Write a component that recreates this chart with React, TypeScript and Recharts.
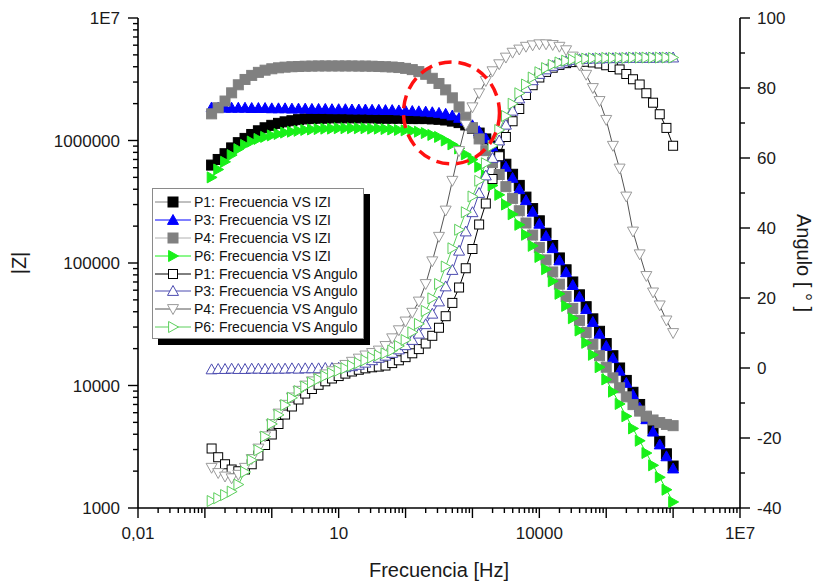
import React from "react";
import { ComposedChart, Line, XAxis, YAxis, ReferenceDot } from "recharts";

// sweep frequencies (Hz), 10 points per decade
const FREQ = [
  0.126, 0.158, 0.2, 0.251, 0.316, 0.398, 0.501, 0.631, 0.794, 1,
  1.26, 1.58, 2, 2.51, 3.16, 3.98, 5.01, 6.31, 7.94, 10,
  12.6, 15.8, 20, 25.1, 31.6, 39.8, 50.1, 63.1, 79.4, 100,
  126, 158, 200, 251, 316, 398, 501, 631, 794, 1000,
  1259, 1585, 1995, 2512, 3162, 3981, 5012, 6310, 7943, 10000,
  12589, 15849, 19953, 25119, 31623, 39811, 50119, 63096, 79433, 100000,
  125893, 158489, 199526, 251189, 316228, 398107, 501187, 630957, 794328, 1000000,
];

// |Z| (ohm)
const P1_Z = [
  6.3e5, 7.0e5, 7.8e5, 8.7e5, 9.6e5, 1.04e6, 1.12e6, 1.2e6, 1.27e6, 1.33e6,
  1.38e6, 1.42e6, 1.45e6, 1.48e6, 1.5e6, 1.51e6, 1.52e6, 1.52e6, 1.53e6, 1.53e6,
  1.53e6, 1.53e6, 1.53e6, 1.53e6, 1.53e6, 1.52e6, 1.52e6, 1.52e6, 1.52e6, 1.52e6,
  1.51e6, 1.51e6, 1.51e6, 1.5e6, 1.49e6, 1.47e6, 1.44e6, 1.4e6, 1.34e6, 1.26e6,
  1.15e6, 1.03e6, 9.0e5, 7.7e5, 6.4e5, 5.3e5, 4.3e5, 3.45e5, 2.78e5, 2.21e5,
  1.75e5, 1.39e5, 1.1e5, 8.8e4, 7.0e4, 5.5e4, 4.4e4, 3.5e4, 2.77e4, 2.2e4,
  1.75e4, 1.39e4, 1.1e4, 8800, 7000, 5500, 4400, 3500, 2770, 2200,
];
const P3_Z = [
  1.86e6, 1.86e6, 1.85e6, 1.85e6, 1.85e6, 1.85e6, 1.84e6, 1.84e6, 1.84e6, 1.83e6,
  1.83e6, 1.83e6, 1.82e6, 1.82e6, 1.82e6, 1.81e6, 1.81e6, 1.81e6, 1.8e6, 1.8e6,
  1.8e6, 1.79e6, 1.79e6, 1.79e6, 1.78e6, 1.78e6, 1.77e6, 1.77e6, 1.76e6, 1.75e6,
  1.74e6, 1.73e6, 1.72e6, 1.7e6, 1.68e6, 1.65e6, 1.6e6, 1.53e6, 1.45e6, 1.33e6,
  1.19e6, 1.04e6, 8.85e5, 7.4e5, 6.1e5, 4.95e5, 4.0e5, 3.25e5, 2.62e5, 2.09e5,
  1.66e5, 1.32e5, 1.05e5, 8.4e4, 6.6e4, 5.3e4, 4.2e4, 3.3e4, 2.64e4, 2.1e4,
  1.67e4, 1.32e4, 1.05e4, 8400, 6600, 5300, 4200, 3300, 2640, 2100,
];
const P4_Z = [
  1.65e6, 1.85e6, 2.1e6, 2.45e6, 2.85e6, 3.15e6, 3.4e6, 3.6e6, 3.75e6, 3.85e6,
  3.92e6, 3.97e6, 4.0e6, 4.02e6, 4.04e6, 4.05e6, 4.06e6, 4.06e6, 4.06e6, 4.06e6,
  4.06e6, 4.06e6, 4.05e6, 4.05e6, 4.04e6, 4.02e6, 4.0e6, 3.98e6, 3.94e6, 3.88e6,
  3.79e6, 3.65e6, 3.47e6, 3.22e6, 2.92e6, 2.59e6, 2.23e6, 1.88e6, 1.55e6, 1.27e6,
  1.03e6, 8.26e5, 6.6e5, 5.28e5, 4.2e5, 3.37e5, 2.67e5, 2.12e5, 1.69e5, 1.34e5,
  1.06e5, 8.45e4, 6.72e4, 5.33e4, 4.26e4, 3.4e4, 2.71e4, 2.17e4, 1.75e4, 1.41e4,
  1.155e4, 9580, 8080, 6980, 6180, 5620, 5230, 4980, 4810, 4700,
];
const P6_Z = [
  5.0e5, 5.8e5, 6.7e5, 7.6e5, 8.5e5, 9.2e5, 9.8e5, 1.03e6, 1.07e6, 1.1e6,
  1.13e6, 1.16e6, 1.18e6, 1.2e6, 1.22e6, 1.23e6, 1.24e6, 1.25e6, 1.25e6, 1.26e6,
  1.26e6, 1.26e6, 1.26e6, 1.26e6, 1.25e6, 1.25e6, 1.24e6, 1.23e6, 1.22e6, 1.21e6,
  1.2e6, 1.18e6, 1.15e6, 1.11e6, 1.07e6, 1.0e6, 9.3e5, 8.6e5, 7.7e5, 7.0e5,
  6.1e5, 5.2e5, 4.3e5, 3.6e5, 3.0e5, 2.5e5, 2.05e5, 1.7e5, 1.38e5, 1.12e5,
  8.9e4, 7.1e4, 5.6e4, 4.46e4, 3.54e4, 2.81e4, 2.23e4, 1.78e4, 1.41e4, 1.12e4,
  8900, 7070, 5610, 4460, 3540, 2810, 2230, 1780, 1410, 1120,
];

// phase angle (degrees)
const P1_A = [
  -23, -25.5, -27.5, -29, -29.5, -29, -27.5, -25, -22, -19,
  -16, -13.3, -11, -9, -7.3, -6, -4.8, -3.8, -3, -2.3,
  -1.6, -1, -0.5, -0.1, 0.2, 0.4, 0.7, 1.4, 2.2, 3.1,
  4.2, 5.4, 7, 9.2, 11.5, 14.8, 18.6, 23, 28.5, 34,
  41, 47, 54, 60.5, 66, 70.5, 74, 78, 80.8, 83,
  84.6, 85.8, 86.6, 87.1, 87.4, 87.5, 87.5, 87.3, 87, 86.5,
  86, 85.3, 84, 82.5, 81, 78.5, 75.8, 72.5, 68.6, 63.5,
];
const P3_A = [
  -0.4, -0.3, -0.3, -0.2, -0.3, -0.3, -0.2, -0.2, -0.3, -0.2,
  -0.2, -0.2, -0.1, -0.2, -0.1, -0.1, -0.1, 0, 0, 0.1,
  0.2, 0.5, 0.9, 1.5, 2.2, 2.9, 3.5, 4.3, 5.3, 6.5,
  8, 9.8, 12.5, 15.5, 19, 23.3, 28, 33.5, 39, 44.5,
  50, 55, 60, 65, 69.5, 73.5, 77, 80, 82.2, 84,
  85.3, 86.3, 87, 87.6, 88, 88.2, 88.3, 88.4, 88.4, 88.5,
  88.5, 88.5, 88.6, 88.6, 88.6, 88.6, 88.6, 88.7, 88.7, 88.7,
];
const P4_A = [
  -28.5, -30, -31, -31.5, -30.5, -28.5, -26, -23, -19.5, -16,
  -13, -10.5, -8.4, -6.5, -5, -3.8, -2.8, -1.8, -0.9, 0,
  0.9, 1.8, 2.7, 3.6, 4.3, 5, 6.3, 8.5, 10.8, 13.3,
  15.8, 19, 24, 30.5, 37.5, 45, 53.5, 62, 69.5, 74.5,
  78.5, 82, 84.8, 86.8, 88.7, 90.1, 91, 91.8, 92.2, 92.5,
  92.5, 92.3, 91.8, 90.8, 89, 86.5, 83.8, 80, 76.3, 70.9,
  63.5, 57, 49, 39, 32.5, 26.3, 21.6, 17.9, 13.6, 10,
];
const P6_A = [
  -38, -37.2, -36.3, -35.3, -33.3, -29.7, -26.3, -23.5, -19.6, -16,
  -13.4, -10.6, -8.5, -6.6, -5.3, -4.2, -3.2, -2.3, -1.5, -0.8,
  -0.1, 0.6, 1.4, 2.2, 3.0, 3.6, 4.2, 5.0, 6.3, 8.0,
  10.2, 12.6, 16.3, 19.9, 24, 29, 34.2, 39.5, 44.5, 49,
  53.5, 58.5, 63.5, 68, 72, 75.5, 78.5, 81, 83, 84.5,
  85.7, 86.6, 87.3, 87.8, 88.1, 88.3, 88.4, 88.5, 88.5, 88.6,
  88.6, 88.6, 88.6, 88.7, 88.7, 88.7, 88.7, 88.7, 88.7, 88.7,
];

const X_LABELS: Record<number, string> = { 0.01: "0,01", 10: "10", 10000: "10000", 10000000: "1E7" };
const Z_LABELS: Record<number, string> = {
  1000: "1000", 10000: "10000", 100000: "100000", 1000000: "1000000", 10000000: "1E7",
};
const ANGLE_TICKS = [-40, -30, -20, -10, 0, 10, 20, 30, 40, 50, 60, 70, 80, 90, 100];

type Shape = "square" | "up" | "down" | "right";
type Series = {
  key: string; name: string; axis: "z" | "ang"; values: number[];
  shape: Shape; fill: string; stroke: string; line: string; size: number;
};

const SERIES: Series[] = [
  { key: "p1z", name: "P1: Frecuencia VS IZI", axis: "z", values: P1_Z, shape: "square", fill: "#000000", stroke: "#000000", line: "#808080", size: 10 },
  { key: "p3z", name: "P3: Frecuencia VS IZI", axis: "z", values: P3_Z, shape: "up", fill: "#0000ff", stroke: "#0000ff", line: "#0000ff", size: 11 },
  { key: "p4z", name: "P4: Frecuencia VS IZI", axis: "z", values: P4_Z, shape: "square", fill: "#808080", stroke: "#808080", line: "#b0b0b0", size: 10 },
  { key: "p6z", name: "P6: Frecuencia VS IZI", axis: "z", values: P6_Z, shape: "right", fill: "#19f019", stroke: "#19f019", line: "#19f019", size: 11 },
  { key: "p1a", name: "P1: Frecuencia VS Angulo", axis: "ang", values: P1_A, shape: "square", fill: "#ffffff", stroke: "#000000", line: "#000000", size: 9 },
  { key: "p3a", name: "P3: Frecuencia VS Angulo", axis: "ang", values: P3_A, shape: "up", fill: "#ffffff", stroke: "#4b4bb0", line: "#4b4bb0", size: 11 },
  { key: "p4a", name: "P4: Frecuencia VS Angulo", axis: "ang", values: P4_A, shape: "down", fill: "#ffffff", stroke: "#9a9a9a", line: "#555555", size: 11 },
  { key: "p6a", name: "P6: Frecuencia VS Angulo", axis: "ang", values: P6_A, shape: "right", fill: "#ffffff", stroke: "#5ccf5c", line: "#5ccf5c", size: 11 },
];

const data = FREQ.map((f, i) => {
  const row: Record<string, number> = { f };
  SERIES.forEach((s) => (row[s.key] = s.values[i]));
  return row;
});

function logTicks(lo: number, hi: number) {
  const out: number[] = [];
  for (let e = lo; e < hi; e++) for (let m = 1; m < 10; m++) out.push(Number((m * 10 ** e).toPrecision(3)));
  out.push(10 ** hi);
  return out;
}
const isDecade = (v: number) => Math.abs(Math.log10(v) - Math.round(Math.log10(v))) < 1e-6;

const FONT = "'Liberation Sans', Arial, sans-serif";

function Marker({ shape, cx, cy, size, fill, stroke }: { shape: Shape; cx: number; cy: number; size: number; fill: string; stroke: string }) {
  const h = size / 2;
  if (shape === "square")
    return <rect x={cx - h} y={cy - h} width={size} height={size} fill={fill} stroke={stroke} strokeWidth={1} />;
  let pts = "";
  if (shape === "up") pts = `${cx},${cy - h} ${cx + h},${cy + h * 0.8} ${cx - h},${cy + h * 0.8}`;
  if (shape === "down") pts = `${cx - h},${cy - h * 0.8} ${cx + h},${cy - h * 0.8} ${cx},${cy + h}`;
  if (shape === "right") pts = `${cx - h * 0.8},${cy - h} ${cx + h},${cy} ${cx - h * 0.8},${cy + h}`;
  return <polygon points={pts} fill={fill} stroke={stroke} strokeWidth={1} />;
}

const BottomTick = (props: any) => {
  const { x, y, payload } = props;
  const v = payload.value;
  const major = isDecade(v);
  const label = major ? X_LABELS[v] : undefined;
  return (
    <g>
      <line x1={x} x2={x} y1={y} y2={y + (major ? 10 : 5)} stroke="#000" strokeWidth={1.4} />
      {label && (
        <text x={x} y={y + 31} textAnchor="middle" fontSize={17} fill="#1a1a1a" fontFamily={FONT}>
          {label}
        </text>
      )}
    </g>
  );
};

const TopTick = (props: any) => {
  const { x, y, payload } = props;
  const major = isDecade(payload.value);
  return <line x1={x} x2={x} y1={y} y2={y + (major ? 9 : 5)} stroke="#000" strokeWidth={1.4} />;
};

const LeftTick = (props: any) => {
  const { x, y, payload } = props;
  const v = payload.value;
  const major = isDecade(v);
  return (
    <g>
      <line x1={x} x2={x - (major ? 10 : 5)} y1={y} y2={y} stroke="#000" strokeWidth={1.4} />
      {major && (
        <text x={x - 18} y={y} dy="0.36em" textAnchor="end" fontSize={17} fill="#1a1a1a" fontFamily={FONT}>
          {Z_LABELS[v]}
        </text>
      )}
    </g>
  );
};

const RightTick = (props: any) => {
  const { x, y, payload } = props;
  const v = payload.value;
  const major = v % 20 === 0;
  return (
    <g>
      <line x1={x} x2={x + (major ? 10 : 5)} y1={y} y2={y} stroke="#000" strokeWidth={1.4} />
      {major && (
        <text x={x + 17} y={y} dy="0.36em" textAnchor="start" fontSize={17} fill="#1a1a1a" fontFamily={FONT}>
          {v}
        </text>
      )}
    </g>
  );
};

// axis titles, placed against the plot frame
const zTitle = (p: any) => {
  const vb = p.viewBox;
  const cx = vb.x + 19;
  const cy = vb.y + vb.height / 2;
  return (
    <text x={cx} y={cy} transform={`rotate(-90 ${cx} ${cy})`} textAnchor="middle" dy="0.35em" fontSize={20} fill="#1a1a1a" fontFamily={FONT}>
      |Z|
    </text>
  );
};
const angleTitle = (p: any) => {
  const vb = p.viewBox;
  const cx = vb.x + 64;
  const cy = vb.y + vb.height / 2;
  return (
    <text x={cx} y={cy} transform={`rotate(90 ${cx} ${cy})`} textAnchor="middle" dy="0.35em" fontSize={20} fill="#1a1a1a" fontFamily={FONT}>
      Angulo [ ° ]
    </text>
  );
};

function LegendBox() {
  return (
    <div
      style={{
        position: "absolute", left: 152, top: 188, width: 210, height: 145,
        border: "1px solid #8a8a8a", background: "#fff", boxShadow: "6px 6px 0 #000",
        paddingTop: 4, boxSizing: "content-box", fontFamily: FONT, fontSize: 14, color: "#111",
      }}
    >
      {SERIES.map((s) => (
        <div key={s.key} style={{ height: 17.9, display: "flex", alignItems: "center" }}>
          <svg width={36} height={14} style={{ marginLeft: 2, flex: "none" }}>
            <line x1={0} x2={36} y1={7} y2={7} stroke={s.line} strokeWidth={1} />
            <Marker shape={s.shape} cx={18} cy={7} size={s.size} fill={s.fill} stroke={s.stroke} />
          </svg>
          <span style={{ marginLeft: 3, whiteSpace: "nowrap" }}>{s.name}</span>
        </div>
      ))}
    </div>
  );
}

export default function App() {
  const xTicks = logTicks(-2, 7);
  const zTicks = logTicks(3, 7);
  return (
    <div style={{ position: "absolute", left: 0, top: 0, width: 821, height: 583, background: "#fff" }}>
      <ComposedChart
        width={821}
        height={583}
        data={data}
        margin={{ top: 18, right: 0, bottom: 0, left: 0 }}
        style={{ fontFamily: FONT }}
      >
        <XAxis
          xAxisId="bottom" dataKey="f" type="number" scale="log" domain={[0.01, 1e7]} allowDataOverflow
          ticks={xTicks} interval={0} height={75} tickSize={0} tickMargin={0} tickLine={false}
          tick={<BottomTick />} axisLine={{ stroke: "#000", strokeWidth: 1.6 }}
          label={{ value: "Frecuencia [Hz]", position: "insideBottom", offset: 6, fontSize: 20, fill: "#1a1a1a" }}
        />
        <XAxis
          xAxisId="top" orientation="top" dataKey="f" type="number" scale="log" domain={[0.01, 1e7]} allowDataOverflow
          ticks={xTicks} interval={0} height={0} tickSize={0} tickMargin={0} tickLine={false}
          tick={<TopTick />} axisLine={{ stroke: "#000", strokeWidth: 1.6 }}
        />
        <YAxis
          yAxisId="z" type="number" scale="log" domain={[1000, 1e7]} allowDataOverflow
          ticks={zTicks} interval={0} width={138} tickSize={0} tickMargin={0} tickLine={false}
          tick={<LeftTick />} axisLine={{ stroke: "#000", strokeWidth: 1.6 }}
          label={zTitle}
        />
        <YAxis
          yAxisId="ang" orientation="right" type="number" domain={[-40, 100]} allowDataOverflow
          ticks={ANGLE_TICKS} interval={0} width={81} tickSize={0} tickMargin={0} tickLine={false}
          tick={<RightTick />} axisLine={{ stroke: "#000", strokeWidth: 1.6 }}
          label={angleTitle}
        />
        {SERIES.map((s) => (
          <Line
            key={s.key}
            xAxisId="bottom"
            yAxisId={s.axis}
            dataKey={s.key}
            type="linear"
            stroke={s.line}
            strokeWidth={1}
            isAnimationActive={false}
            activeDot={false}
            dot={(p: any) => (
              <Marker key={`${s.key}-${p.index}`} shape={s.shape} cx={p.cx} cy={p.cy} size={s.size} fill={s.fill} stroke={s.stroke} />
            )}
          />
        ))}
        <ReferenceDot
          xAxisId="bottom"
          yAxisId="z"
          x={486}
          y={1.68e6}
          ifOverflow="visible"
          shape={(p: any) => (
            <ellipse cx={p.cx} cy={p.cy} rx={48} ry={51} fill="none" stroke="#ff1010" strokeWidth={3.5} strokeDasharray="13 7" />
          )}
        />
      </ComposedChart>
      <LegendBox />
    </div>
  );
}
